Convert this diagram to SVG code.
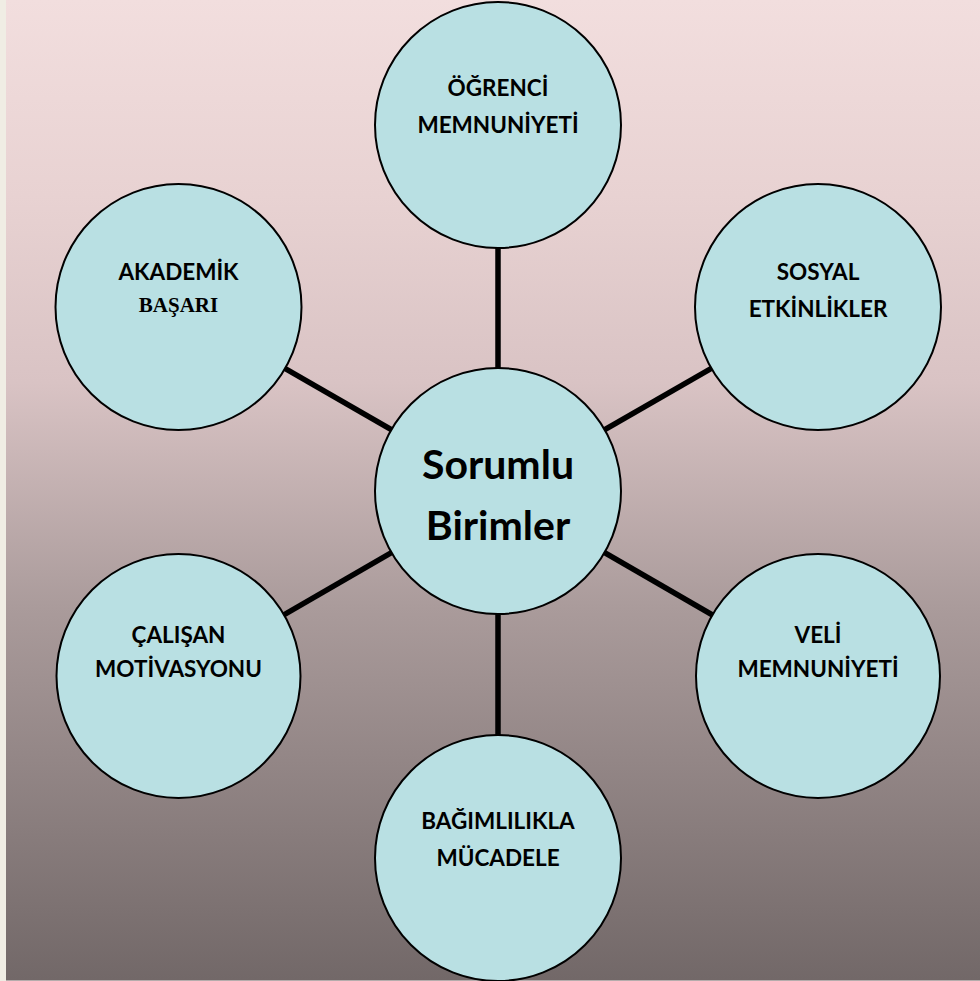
<svg xmlns="http://www.w3.org/2000/svg" width="980" height="981" viewBox="0 0 980 981">
<defs>
<linearGradient id="bg" x1="0" y1="0" x2="0" y2="1">
<stop offset="0" stop-color="#f2dede"/>
<stop offset="0.2" stop-color="#e8d2d2"/>
<stop offset="0.39" stop-color="#d9c3c4"/>
<stop offset="0.62" stop-color="#aa9b9b"/>
<stop offset="1" stop-color="#726868"/>
</linearGradient>
<style>
.node circle{fill:#b9e0e3;stroke:#000;stroke-width:2}
.t{font-family:Lato,"Open Sans","Liberation Sans",sans-serif;font-weight:bold;font-size:22.5px;fill:#000;text-anchor:middle}
.s{font-family:"Liberation Serif","Times New Roman",serif;font-weight:bold;font-size:21px;fill:#000;text-anchor:middle}
.big{font-size:41px}
.conn line{stroke:#000;stroke-width:5.5}
</style>
</defs>
<rect x="0" y="0" width="980" height="981" fill="#f0ede4"/>
<rect x="6" y="0" width="974" height="980" fill="url(#bg)"/>
<line x1="6" y1="980.5" x2="980" y2="980.5" stroke="#b5acac" stroke-width="1"/>
<g id="connectors" class="conn">
<line x1="498" y1="125" x2="498" y2="491"/>
<line x1="498" y1="491" x2="498" y2="858"/>
<line x1="178" y1="307" x2="498" y2="491"/>
<line x1="818" y1="307" x2="498" y2="491"/>
<line x1="178" y1="676" x2="498" y2="491"/>
<line x1="818" y1="676" x2="498" y2="491"/>
</g>
<g id="n-ogrenci" class="node">
<circle cx="498" cy="125" r="123"/>
<text class="t" x="498" y="96">ÖĞRENCİ</text>
<text class="t" x="498" y="133">MEMNUNİYETİ</text>
</g>
<g id="n-akademik" class="node">
<circle cx="178.5" cy="307" r="123"/>
<text class="t" x="178.5" y="280">AKADEMİK</text>
<text class="s" x="178.5" y="312">BAŞARI</text>
</g>
<g id="n-sosyal" class="node">
<circle cx="818" cy="307" r="123"/>
<text class="t" x="818" y="280">SOSYAL</text>
<text class="t" x="818" y="317">ETKİNLİKLER</text>
</g>
<g id="n-center" class="node">
<circle cx="498" cy="491" r="123"/>
<text class="t big" x="498" y="479">Sorumlu</text>
<text class="t big" x="498" y="540">Birimler</text>
</g>
<g id="n-calisan" class="node">
<circle cx="178.5" cy="676" r="122"/>
<text class="t" x="178.5" y="643">ÇALIŞAN</text>
<text class="t" x="178.5" y="677">MOTİVASYONU</text>
</g>
<g id="n-veli" class="node">
<circle cx="818" cy="676" r="122"/>
<text class="t" x="818" y="643">VELİ</text>
<text class="t" x="818" y="677">MEMNUNİYETİ</text>
</g>
<g id="n-bagimlilik" class="node">
<circle cx="498" cy="858" r="123"/>
<text class="t" x="498" y="829">BAĞIMLILIKLA</text>
<text class="t" x="498" y="866">MÜCADELE</text>
</g>
</svg>
